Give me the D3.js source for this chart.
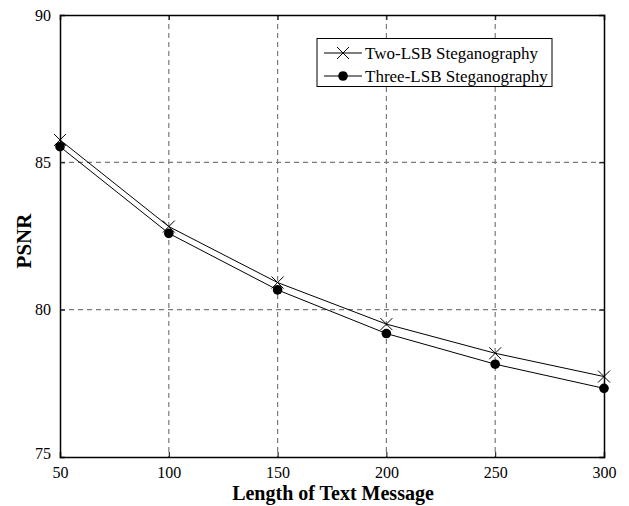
<!DOCTYPE html>
<html><head><meta charset="utf-8">
<script src="https://cdn.jsdelivr.net/npm/d3@7"></script>
<style>body{margin:0;background:#fff}</style>
</head><body>
<svg id="c" width="629" height="506"></svg>
<script>
const xValues = [50, 100, 150, 200, 250, 300];
const twoLSB = [85.76, 82.82, 80.92, 79.51, 78.52, 77.73];
const threeLSB = [85.53, 82.59, 80.67, 79.19, 78.15, 77.33];
const xTicks = [50, 100, 150, 200, 250, 300];
const yTicks = [75, 80, 85, 90];
const seriesNames = ["Two-LSB Steganography", "Three-LSB Steganography"];

const svg = d3.select("#c");
const L = 60, R = 604, T = 15, B = 457;
const x = d3.scaleLinear().domain([50, 300]).range([L, R]);
const y = d3.scaleLinear().domain([75, 90]).range([B, T]);
const font = "'Liberation Serif', 'Times New Roman', serif";

// grid
const g = svg.append("g");
g.selectAll(".gx").data(xTicks.slice(1, -1)).enter().append("line")
  .attr("x1", d => x(d)).attr("x2", d => x(d)).attr("y1", T).attr("y2", B)
  .attr("stroke", "#7a7a7a").attr("stroke-width", 1.2).attr("stroke-dasharray", "5,4");
g.selectAll(".gy").data(yTicks.slice(1, -1)).enter().append("line")
  .attr("x1", L).attr("x2", R).attr("y1", d => y(d)).attr("y2", d => y(d))
  .attr("stroke", "#7a7a7a").attr("stroke-width", 1.2).attr("stroke-dasharray", "5,4");

// axes (inward ticks)
const axB = svg.append("g").attr("transform", `translate(0,${B})`)
  .call(d3.axisBottom(x).tickValues(xTicks).tickSize(-5).tickPadding(10).tickFormat(d3.format("d")));
const axT = svg.append("g").attr("transform", `translate(0,${T})`)
  .call(d3.axisTop(x).tickValues(xTicks).tickSize(-5).tickFormat(""));
const axL = svg.append("g").attr("transform", `translate(${L},0)`)
  .call(d3.axisLeft(y).tickValues(yTicks).tickSize(-5).tickPadding(9).tickFormat(d3.format("d")));
const axR = svg.append("g").attr("transform", `translate(${R},0)`)
  .call(d3.axisRight(y).tickValues(yTicks).tickSize(-5).tickFormat(""));
[axB, axT, axL, axR].forEach(a => {
  a.selectAll("path").attr("stroke", "#000").attr("stroke-width", 1.5);
  a.selectAll("line").attr("stroke", "#000").attr("stroke-width", 1);
  a.selectAll("text").attr("font-family", font).attr("font-size", 16).attr("fill", "#000");
});
axL.selectAll("text").filter(d => d === 75).attr("dy", "0.1em");

// lines
const line = d3.line().x((d, i) => x(xValues[i])).y(d => y(d));
svg.append("path").datum(twoLSB).attr("d", line).attr("fill", "none").attr("stroke", "#000").attr("stroke-width", 1);
svg.append("path").datum(threeLSB).attr("d", line).attr("fill", "none").attr("stroke", "#000").attr("stroke-width", 1);

const cross = (sel, cx, cy, s) => {
  sel.append("path").attr("d", `M${cx - s},${cy - s}L${cx + s},${cy + s}M${cx - s},${cy + s}L${cx + s},${cy - s}`)
    .attr("stroke", "#000").attr("stroke-width", 1).attr("fill", "none");
};
twoLSB.forEach((v, i) => cross(svg, x(xValues[i]), y(v), 6));
svg.selectAll(".dot").data(threeLSB).enter().append("circle")
  .attr("cx", (d, i) => x(xValues[i])).attr("cy", d => y(d)).attr("r", 4.8).attr("fill", "#000");

// legend
const lg = svg.append("g");
lg.append("rect").attr("x", 317).attr("y", 38.5).attr("width", 235).attr("height", 48)
  .attr("fill", "#fff").attr("stroke", "#000").attr("stroke-width", 1);
const rows = [53, 76];
rows.forEach((ry, i) => {
  lg.append("line").attr("x1", 324).attr("x2", 362).attr("y1", ry).attr("y2", ry).attr("stroke", "#000").attr("stroke-width", 1);
  if (i === 0) cross(lg, 343, ry, 6); else lg.append("circle").attr("cx", 343).attr("cy", ry).attr("r", 4.8).attr("fill", "#000");
  lg.append("text").attr("x", 365).attr("y", ry).attr("dy", "0.35em").attr("font-family", font).attr("font-size", 17)
    .text(seriesNames[i]);
});

// titles
svg.append("text").attr("x", 333).attr("y", 500).attr("text-anchor", "middle")
  .attr("font-family", font).attr("font-size", 20).attr("font-weight", "bold").text("Length of Text Message");
svg.append("text").attr("transform", "translate(31,241) rotate(-90)").attr("text-anchor", "middle")
  .attr("font-family", font).attr("font-size", 21).attr("font-weight", "bold").text("PSNR");
</script>
</body></html>
